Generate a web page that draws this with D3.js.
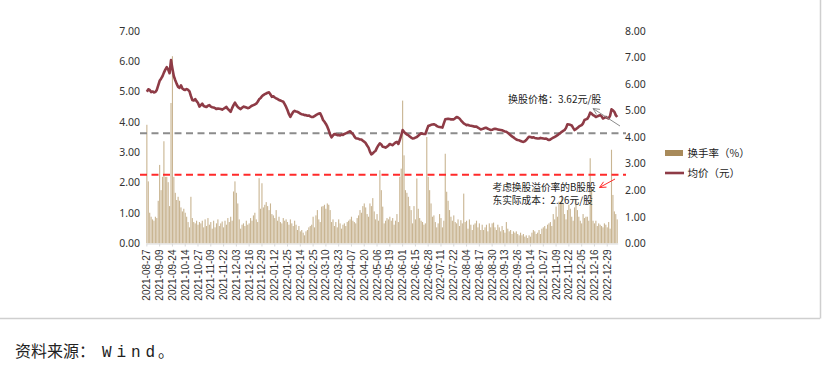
<!DOCTYPE html>
<html><head><meta charset="utf-8">
<script src="https://cdn.jsdelivr.net/npm/d3@7"></script>
<style>
html,body{margin:0;padding:0;background:#fff;}
svg{display:block;}
</style></head>
<body>
<svg id="chart" width="832" height="367"></svg>
<script>
// ---- data ----
const tickLabels = ["2021-08-27","2021-09-09","2021-09-24","2021-10-14","2021-10-27","2021-11-09","2021-11-22","2021-12-03","2021-12-16","2021-12-29","2022-01-12","2022-01-25","2022-02-14","2022-02-25","2022-03-10","2022-03-23","2022-04-07","2022-04-20","2022-05-06","2022-05-19","2022-06-01","2022-06-15","2022-06-28","2022-07-11","2022-07-22","2022-08-04","2022-08-17","2022-08-30","2022-09-13","2022-09-26","2022-10-14","2022-10-27","2022-11-09","2022-11-22","2022-12-05","2022-12-16","2022-12-29"];
const tickStep = 9; // trading days between labelled dates

// 换手率 (%) — right axis
const turnover = [
4.46,2.33,1.15,1.0,0.9,0.85,1.0,0.95,1.6,2.95,
2.0,2.5,3.84,2.5,2.5,2.3,1.4,5.28,7.04,2.5,
1.9,1.63,1.75,1.6,1.35,1.2,1.3,1.15,1.0,0.8,
0.6,1.75,0.95,0.8,0.75,0.85,0.7,0.8,0.75,0.85,
0.6,0.9,0.65,0.95,0.7,0.8,0.55,0.85,0.6,0.75,
0.9,0.65,0.75,0.82,0.6,0.85,0.7,0.95,0.8,1.0,
0.85,1.95,2.33,1.9,1.5,0.9,0.55,0.7,0.75,0.65,
0.85,0.7,0.75,0.95,0.85,1.05,1.15,0.9,0.8,2.45,
1.3,2.26,1.35,1.45,1.55,1.4,1.25,1.5,1.1,1.05,
0.95,1.25,0.85,1.0,0.8,0.75,0.95,0.85,0.9,0.8,
0.7,0.9,0.75,0.65,0.85,0.7,0.5,0.65,0.45,0.5,
0.4,0.3,0.45,0.5,0.6,0.65,0.7,1.0,0.6,1.05,
1.25,0.9,0.8,1.38,1.4,1.45,1.3,1.5,1.45,1.25,
0.8,0.9,0.65,0.8,0.6,0.9,0.75,0.55,0.7,0.75,
0.65,0.8,0.85,0.9,1.0,0.85,0.8,0.75,0.95,1.05,
1.25,1.15,1.4,1.5,1.35,1.1,1.0,1.5,1.4,1.7,
1.2,0.9,1.1,0.85,2.75,2.0,1.38,0.75,0.85,0.95,
0.9,1.0,0.85,0.95,0.7,0.85,1.1,0.8,2.5,2.81,
5.37,3.31,2.0,1.9,1.75,1.4,1.25,0.75,1.4,0.9,
2.44,1.3,0.95,0.85,0.8,0.7,0.75,4.0,2.5,2.0,
1.5,1.0,1.05,0.8,0.6,0.75,1.1,0.95,0.6,0.85,
3.37,1.94,1.6,1.25,1.0,0.85,1.05,0.8,0.75,0.9,
0.65,0.87,0.75,1.87,0.8,0.85,0.55,0.9,0.7,0.5,
0.7,0.75,0.85,0.6,0.75,0.5,0.7,0.5,0.6,0.7,
0.45,0.75,0.6,0.75,0.78,0.6,0.5,0.7,0.6,0.45,
0.65,0.5,0.4,0.8,0.55,0.45,0.5,0.35,0.45,0.4,
0.45,0.35,0.3,0.4,0.3,0.35,0.25,0.3,0.2,0.3,
0.25,0.4,0.5,0.45,0.35,0.4,0.5,0.35,0.55,0.6,
0.65,0.55,0.7,0.75,0.8,0.65,1.1,0.9,1.38,1.0,
1.57,1.5,1.82,1.5,1.1,0.9,1.25,1.45,1.3,1.0,
0.85,1.35,1.63,1.25,1.0,0.85,0.75,1.1,0.95,1.0,
1.0,0.85,3.2,2.0,0.85,0.75,0.85,0.65,0.75,0.7,
0.65,0.6,0.75,0.7,0.6,0.8,0.55,3.52,1.82,1.2,
1.1,0.9];

// 均价 (元) — left axis
const avgPrice = [
4.99,5.07,5.05,4.98,5.0,4.97,4.98,5.05,5.2,5.35,
5.42,5.5,5.62,5.72,5.8,5.72,5.6,6.03,5.75,5.5,
5.37,5.25,5.15,5.12,5.2,5.1,5.06,5.05,5.08,5.05,
5.0,4.85,4.72,4.7,4.75,4.68,4.62,4.5,4.55,4.6,
4.52,4.5,4.49,4.53,4.55,4.5,4.48,4.47,4.45,4.42,
4.44,4.43,4.42,4.4,4.43,4.46,4.49,4.42,4.38,4.33,
4.45,4.55,4.63,4.55,4.49,4.45,4.42,4.46,4.5,4.49,
4.47,4.45,4.46,4.5,4.53,4.55,4.57,4.6,4.66,4.74,
4.78,4.84,4.88,4.91,4.93,4.96,4.97,4.9,4.82,4.84,
4.8,4.77,4.75,4.72,4.7,4.68,4.66,4.58,4.49,4.38,
4.25,4.16,4.25,4.33,4.36,4.34,4.33,4.3,4.27,4.25,
4.24,4.22,4.22,4.2,4.21,4.18,4.16,4.16,4.19,4.22,
4.25,4.27,4.28,4.18,4.06,4.0,3.93,3.84,3.72,3.58,
3.49,3.55,3.6,3.58,3.56,3.57,3.55,3.58,3.57,3.6,
3.62,3.64,3.67,3.69,3.64,3.6,3.52,3.46,3.45,3.44,
3.42,3.42,3.38,3.34,3.3,3.22,3.15,3.02,2.93,2.96,
3.01,3.05,3.15,3.23,3.29,3.25,3.18,3.17,3.15,3.18,
3.22,3.27,3.25,3.23,3.28,3.32,3.34,3.27,3.4,3.55,
3.73,3.67,3.62,3.58,3.56,3.52,3.48,3.45,3.46,3.48,
3.5,3.54,3.58,3.62,3.61,3.6,3.6,3.73,3.86,3.88,
3.9,3.91,3.92,3.9,3.86,3.84,3.83,3.82,3.81,3.95,
4.08,4.09,4.1,4.09,4.08,4.08,4.08,4.12,4.16,4.14,
4.11,4.05,4.0,3.95,3.92,3.89,3.9,3.88,3.87,3.86,
3.85,3.84,3.84,3.81,3.78,3.75,3.76,3.78,3.8,3.8,
3.77,3.75,3.73,3.74,3.76,3.77,3.76,3.75,3.74,3.73,
3.72,3.7,3.68,3.67,3.64,3.6,3.56,3.52,3.49,3.45,
3.42,3.4,3.39,3.37,3.35,3.34,3.36,3.4,3.46,3.51,
3.5,3.48,3.49,3.47,3.46,3.45,3.45,3.47,3.46,3.45,
3.44,3.45,3.42,3.4,3.42,3.45,3.48,3.5,3.53,3.56,
3.6,3.63,3.67,3.7,3.73,3.8,3.92,3.91,3.9,3.88,
3.8,3.73,3.76,3.8,3.84,3.87,3.89,3.95,4.06,4.08,
4.1,4.18,4.3,4.27,4.22,4.2,4.16,4.18,4.2,4.22,
4.18,4.11,4.13,4.16,4.13,4.11,4.2,4.41,4.38,4.33,
4.22,4.16];

const leftTicks = [0,1,2,3,4,5,6,7];
const rightTicks = [0,1,2,3,4,5,6,7,8];
const swapPrice = 3.62;     // 换股价格
const actualCost = 2.26;    // B股股东实际成本
const seriesNames = ["换手率（%）","均价（元）"];
const noteSwap = "换股价格：3.62元/股";
const noteCost = ["考虑换股溢价率的B股股","东实际成本：2.26元/股"];
const sourceParts = ["资料来源：","Wind","。"];

// ---- drawing ----
const svg = d3.select("#chart");
const N = turnover.length;
const x = d3.scaleBand().domain(d3.range(N)).range([146.3, 146.3 + N*1.42]).paddingInner(0.22);
const yL = d3.scaleLinear().domain([0,7]).range([243.3, 30.7]);
const yR = d3.scaleLinear().domain([0,8]).range([243.3, 30.7]);
const cx = i => x(i) + x.bandwidth()/2;

// frame lines
svg.append("line").attr("x1",0).attr("x2",820).attr("y1",318.5).attr("y2",318.5).attr("stroke","#cfcfcf").attr("stroke-width",1.5);
svg.append("line").attr("x1",820.5).attr("x2",820.5).attr("y1",0).attr("y2",318.5).attr("stroke","#cfcfcf").attr("stroke-width",1.5);

// bars
svg.append("g").selectAll("rect").data(turnover).join("rect")
  .attr("x",(d,i)=>x(i)).attr("width",x.bandwidth())
  .attr("y",d=>yR(d)).attr("height",d=>yR(0)-yR(d))
  .attr("fill","#c9b592");

// baseline x axis
const xAxis = d3.axisBottom(x)
  .tickValues(tickLabels.map((_,k)=>k*tickStep))
  .tickFormat((d)=>tickLabels[d/tickStep])
  .tickSize(3).tickSizeOuter(0);
const gx = svg.append("g").attr("transform","translate(0,243.5)").call(xAxis);
gx.select(".domain").attr("stroke","#d9d9d9");
gx.selectAll(".tick line").attr("stroke","#d9d9d9");
gx.selectAll(".tick text")
  .attr("font-family","'Liberation Sans', Arial, sans-serif").attr("font-size","10px").attr("fill","#333")
  .attr("transform","rotate(-90)").attr("text-anchor","end")
  .attr("x",-6).attr("y",0).attr("dy","0.35em");

// reference lines
svg.append("line").attr("x1",140).attr("x2",626).attr("y1",yL(swapPrice)).attr("y2",yL(swapPrice))
  .attr("stroke","#8c8c8c").attr("stroke-width",2).attr("stroke-dasharray","7,4.5");
svg.append("line").attr("x1",140).attr("x2",626).attr("y1",yL(actualCost)).attr("y2",yL(actualCost))
  .attr("stroke","#ff2a2a").attr("stroke-width",2).attr("stroke-dasharray","7,4.5");

// price line
svg.append("path").datum(avgPrice)
  .attr("d", d3.line().x((d,i)=>cx(i)).y(d=>yL(d)))
  .attr("fill","none").attr("stroke","#8e3b46").attr("stroke-width",2.6).attr("stroke-linejoin","round");

// y axes
const axFont = "'Noto Sans','Open Sans',sans-serif";
const gl = svg.append("g").attr("transform","translate(143,0)")
  .call(d3.axisLeft(yL).tickValues(leftTicks).tickFormat(d3.format(".2f")).tickSize(0).tickPadding(3));
const gr = svg.append("g").attr("transform","translate(622,0)")
  .call(d3.axisRight(yR).tickValues(rightTicks).tickFormat(d3.format(".2f")).tickSize(0).tickPadding(3));
[gl,gr].forEach(g=>{
  g.select(".domain").remove();
  g.selectAll("text").attr("font-family",axFont).attr("font-size","10.5px").attr("fill","#333");
});

// annotations
const noteFont = "'Noto Sans CJK SC','Noto Sans',sans-serif";
svg.append("text").attr("x",508).attr("y",102.5).attr("font-family",noteFont).attr("font-size","10px").attr("fill","#222").text(noteSwap);
noteCost.forEach((t,k)=>{
  svg.append("text").attr("x",492.5).attr("y",190.5+k*13.5).attr("font-family",noteFont).attr("font-size","9.7px").attr("fill","#222").text(t);
});
function arrowHead(x0,y0,x1,y1,color){
  const a = Math.atan2(y1-y0,x1-x0), L=7, w=0.45;
  const p = d3.path();
  p.moveTo(x1 - L*Math.cos(a-w), y1 - L*Math.sin(a-w));
  p.lineTo(x1,y1);
  p.lineTo(x1 - L*Math.cos(a+w), y1 - L*Math.sin(a+w));
  svg.append("line").attr("x1",x0).attr("y1",y0).attr("x2",x1).attr("y2",y1).attr("stroke",color).attr("stroke-width",1);
  svg.append("path").attr("d",p.toString()).attr("fill","none").attr("stroke",color).attr("stroke-width",1);
}
arrowHead(620,126,593,108.5,"#8c8c8c");
arrowHead(615,179,599.5,187.5,"#ff2a2a");

// legend
const lg = svg.append("g");
lg.append("rect").attr("x",665).attr("y",150).attr("width",18).attr("height",6).attr("fill","#a88a5a");
lg.append("line").attr("x1",665).attr("x2",684).attr("y1",173).attr("y2",173).attr("stroke","#8e3b46").attr("stroke-width",2.6);
seriesNames.forEach((t,k)=>{
  lg.append("text").attr("x",687.5).attr("y",157+k*20).attr("font-family",noteFont).attr("font-size","10.5px").attr("fill","#222").text(t);
});

// source
const srcFont = "'Noto Sans CJK SC',sans-serif";
svg.append("text").attr("x",15).attr("y",357).attr("font-family",srcFont).attr("font-size","16px").attr("fill","#222").text(sourceParts[0]);
svg.append("text").attr("x",102).attr("y",357).attr("font-family","'Liberation Mono','DejaVu Sans Mono',monospace").attr("font-size","16px").attr("fill","#222")
  .attr("textLength",53).attr("lengthAdjust","spacing").text(sourceParts[1]);
svg.append("text").attr("x",158).attr("y",357).attr("font-family",srcFont).attr("font-size","16px").attr("fill","#222").text(sourceParts[2]);
</script>
</body></html>
